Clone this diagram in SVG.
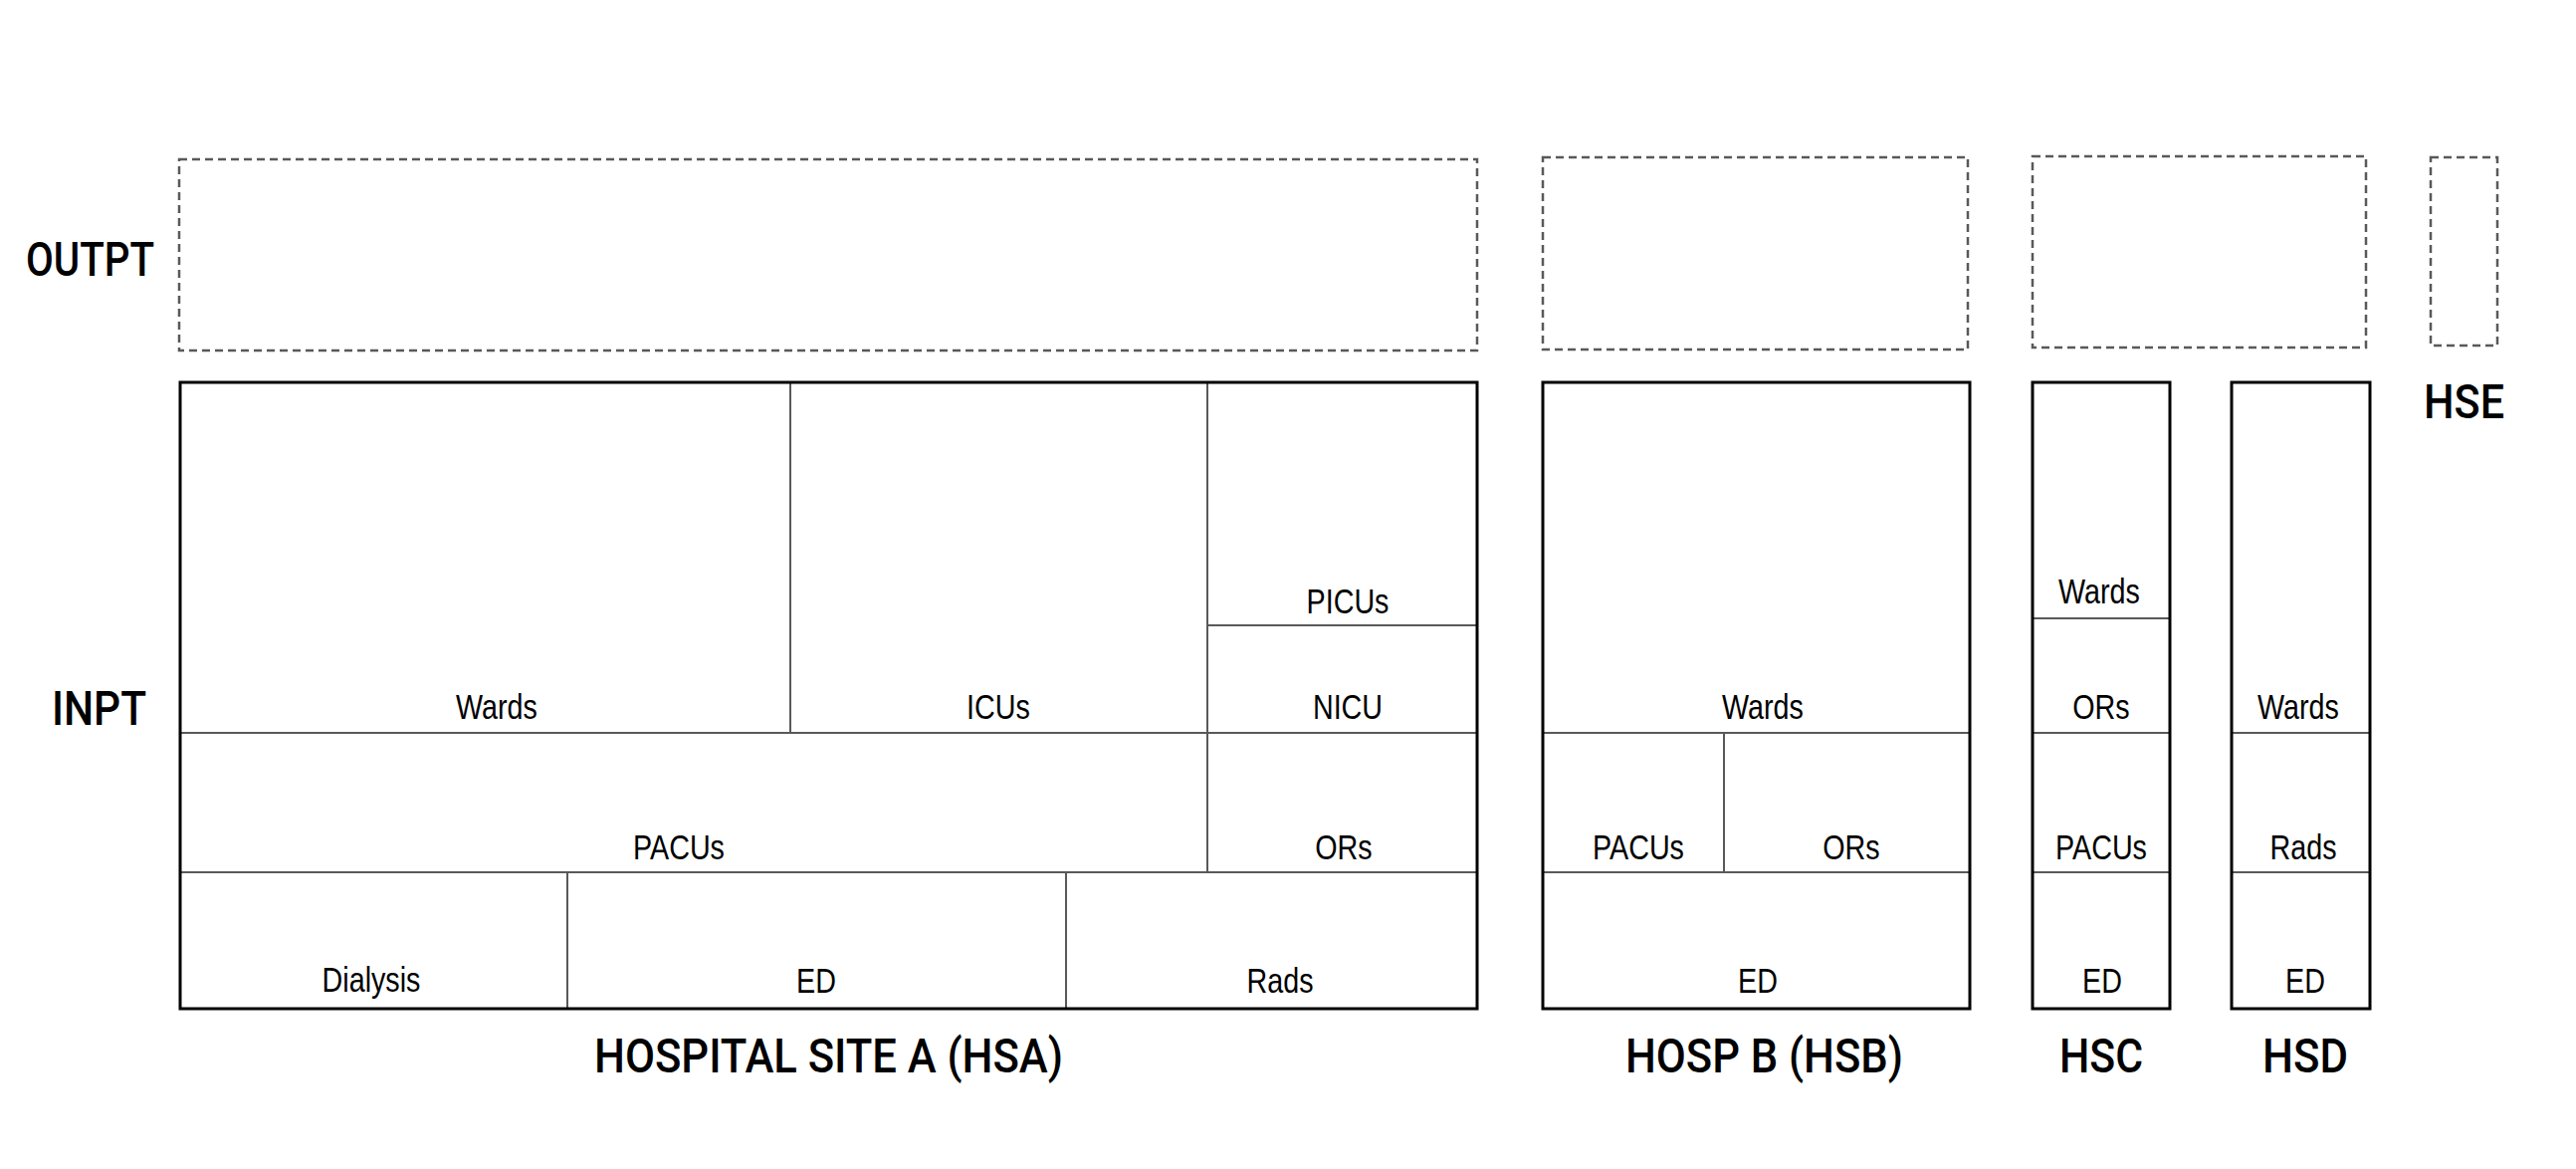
<svg xmlns="http://www.w3.org/2000/svg" width="2588" height="1174" viewBox="0 0 2588 1174">
  <style>
    .bg { fill: #ffffff; }
    .dash { fill: none; stroke: #595959; stroke-width: 2.5; stroke-dasharray: 8 5; }
    .outer { fill: none; stroke: #000000; stroke-width: 3; }
    .div { fill: none; stroke: #595959; stroke-width: 2; }
    .lbl { font-family: "Liberation Sans", Arial, sans-serif; font-size: 35px; fill: #000000; text-anchor: middle; }
    .hd { font-family: Roboto, "DejaVu Sans", sans-serif; font-weight: 500; font-size: 48px; fill: #000000; }
  </style>
  <rect class="bg" x="0" y="0" width="2588" height="1174"/>

  <g id="row-labels">
    <text class="hd" x="26" y="277" textLength="129" lengthAdjust="spacingAndGlyphs">OUTPT</text>
    <text class="hd" x="52" y="728" textLength="95" lengthAdjust="spacingAndGlyphs">INPT</text>
  </g>

  <g id="outpt-hsa"><rect class="dash" x="180" y="160" width="1304" height="192"/></g>
  <g id="outpt-hsb"><rect class="dash" x="1550" y="158" width="427" height="193"/></g>
  <g id="outpt-hsc"><rect class="dash" x="2042" y="157" width="335" height="192"/></g>
  <g id="outpt-hse"><rect class="dash" x="2442" y="158" width="67" height="189"/></g>

  <g id="hsa">
    <path class="div" d="M181 736H1484 M181 876H1484 M794 384V736 M1213 384V876 M1213 628H1484 M570 876V1013 M1071 876V1013"/>
    <rect class="outer" x="181" y="384" width="1303" height="629"/>
    <text class="lbl" transform="translate(499,722) scale(0.82,1)">Wards</text>
    <text class="lbl" transform="translate(1003,722) scale(0.82,1)">ICUs</text>
    <text class="lbl" transform="translate(1354,616) scale(0.82,1)">PICUs</text>
    <text class="lbl" transform="translate(1354,722) scale(0.82,1)">NICU</text>
    <text class="lbl" transform="translate(682,863) scale(0.82,1)">PACUs</text>
    <text class="lbl" transform="translate(1350,863) scale(0.82,1)">ORs</text>
    <text class="lbl" transform="translate(373,996) scale(0.82,1)">Dialysis</text>
    <text class="lbl" transform="translate(820,997) scale(0.82,1)">ED</text>
    <text class="lbl" transform="translate(1286,997) scale(0.82,1)">Rads</text>
    <text class="hd" x="597" y="1077" textLength="471" lengthAdjust="spacingAndGlyphs">HOSPITAL SITE A (HSA)</text>
  </g>

  <g id="hsb">
    <path class="div" d="M1550 736H1979 M1550 876H1979 M1732 736V876"/>
    <rect class="outer" x="1550" y="384" width="429" height="629"/>
    <text class="lbl" transform="translate(1771,722) scale(0.82,1)">Wards</text>
    <text class="lbl" transform="translate(1646,863) scale(0.82,1)">PACUs</text>
    <text class="lbl" transform="translate(1860,863) scale(0.82,1)">ORs</text>
    <text class="lbl" transform="translate(1766,997) scale(0.82,1)">ED</text>
    <text class="hd" x="1633" y="1077" textLength="279" lengthAdjust="spacingAndGlyphs">HOSP B (HSB)</text>
  </g>

  <g id="hsc">
    <path class="div" d="M2042 621H2180 M2042 736H2180 M2042 876H2180"/>
    <rect class="outer" x="2042" y="384" width="138" height="629"/>
    <text class="lbl" transform="translate(2109,606) scale(0.82,1)">Wards</text>
    <text class="lbl" transform="translate(2111,722) scale(0.82,1)">ORs</text>
    <text class="lbl" transform="translate(2111,863) scale(0.82,1)">PACUs</text>
    <text class="lbl" transform="translate(2112,997) scale(0.82,1)">ED</text>
    <text class="hd" x="2069" y="1077" textLength="84" lengthAdjust="spacingAndGlyphs">HSC</text>
  </g>

  <g id="hsd">
    <path class="div" d="M2242 736H2381 M2242 876H2381"/>
    <rect class="outer" x="2242" y="384" width="139" height="629"/>
    <text class="lbl" transform="translate(2309,722) scale(0.82,1)">Wards</text>
    <text class="lbl" transform="translate(2314,863) scale(0.82,1)">Rads</text>
    <text class="lbl" transform="translate(2316,997) scale(0.82,1)">ED</text>
    <text class="hd" x="2273" y="1077" textLength="86" lengthAdjust="spacingAndGlyphs">HSD</text>
  </g>

  <g id="hse">
    <text class="hd" x="2435" y="420" textLength="81" lengthAdjust="spacingAndGlyphs">HSE</text>
  </g>
</svg>
